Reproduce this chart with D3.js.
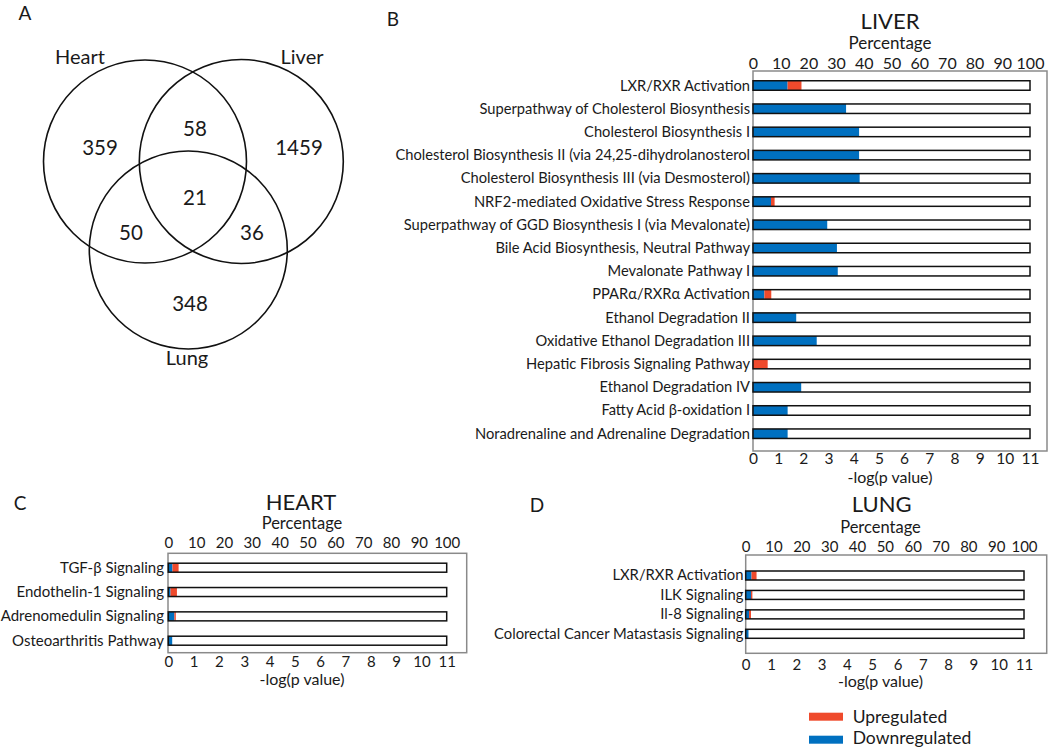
<!DOCTYPE html>
<html><head><meta charset="utf-8">
<script src="https://cdn.jsdelivr.net/npm/d3@7"></script>
<style>
body{margin:0;background:#fff}
text{font-family:Lato,"Open Sans",sans-serif;fill:#1a1a1a}
</style>
</head><body>
<svg id="chart" width="1050" height="747"></svg>
<script>
// ---------------- DATA ----------------
const vennSetNames = ["Heart", "Liver", "Lung"];
const vennRegionNames = ["Heart only", "Heart & Liver", "Liver only", "All three", "Heart & Lung", "Liver & Lung", "Lung only"];
const vennCounts = [359, 58, 1459, 21, 50, 36, 348];

const percentTicks = [0, 10, 20, 30, 40, 50, 60, 70, 80, 90, 100];
const logpTicks = [0, 1, 2, 3, 4, 5, 6, 7, 8, 9, 10, 11];

const liverPathways = [
  "LXR/RXR Activation",
  "Superpathway of Cholesterol Biosynthesis",
  "Cholesterol Biosynthesis I",
  "Cholesterol Biosynthesis II (via 24,25-dihydrolanosterol",
  "Cholesterol Biosynthesis III (via Desmosterol)",
  "NRF2-mediated Oxidative Stress Response",
  "Superpathway of GGD Biosynthesis I (via Mevalonate)",
  "Bile Acid Biosynthesis, Neutral Pathway",
  "Mevalonate Pathway I",
  "PPARα/RXRα Activation",
  "Ethanol Degradation II",
  "Oxidative Ethanol Degradation III",
  "Hepatic Fibrosis Signaling Pathway",
  "Ethanol Degradation IV",
  "Fatty Acid β-oxidation I",
  "Noradrenaline and Adrenaline Degradation"
];
const liverDown = [12.5, 33.6, 38.3, 38.3, 38.5, 6.5, 26.8, 30.3, 30.6, 4.1, 15.6, 23.0, 0, 17.4, 12.5, 12.5];
const liverUp   = [5.0, 0, 0, 0, 0, 1.3, 0, 0, 0, 2.5, 0, 0, 5.3, 0, 0, 0];
const liverTotal = [100, 100, 100, 100, 100, 100, 100, 100, 100, 100, 100, 100, 100, 100, 100, 100];

const heartPathways = ["TGF-β Signaling", "Endothelin-1 Signaling", "Adrenomedulin Signaling", "Osteoarthritis Pathway"];
const heartDown = [1.5, 0.8, 2.2, 1.4];
const heartUp   = [2.2, 2.3, 0.5, 0];
const heartTotal = [100, 100, 100, 100];

const lungPathways = ["LXR/RXR Activation", "ILK Signaling", "Il-8 Signaling", "Colorectal Cancer Matastasis Signaling"];
const lungDown = [2.1, 1.9, 1.2, 1.0];
const lungUp   = [1.8, 0.5, 0.7, 0];
const lungTotal = [100, 100, 100, 100];

const legendLabels = ["Upregulated", "Downregulated"];

// ---------------- STYLE ----------------
const RED = "#EF4A2C", BLUE = "#0070C0", FRAME = "#8a8a8a";
const svg = d3.select("#chart");

// ---------------- VENN ----------------
const venn = svg.append("g");
const circleLayout = [
  {cx: 145, cy: 161.5, r: 101.5},
  {cx: 241.3, cy: 161.5, r: 102},
  {cx: 188.3, cy: 250, r: 99}
];
venn.selectAll("circle").data(circleLayout).join("circle")
  .attr("cx", d => d.cx).attr("cy", d => d.cy).attr("r", d => d.r)
  .attr("fill", "none").attr("stroke", "#111").attr("stroke-width", 1.6);
const setLabelPos = [[80, 64], [302, 64], [187, 365]];
venn.selectAll("text.set").data(vennSetNames).join("text").attr("class", "set")
  .attr("x", (d, i) => setLabelPos[i][0]).attr("y", (d, i) => setLabelPos[i][1])
  .attr("text-anchor", "middle").style("font-size", "20px").text(d => d);
const regionPos = [[100, 155], [195, 135.7], [299, 155], [195, 205], [131, 240], [252, 240], [190, 310.7]];
venn.selectAll("text.cnt").data(vennCounts).join("text").attr("class", "cnt")
  .attr("x", (d, i) => regionPos[i][0]).attr("y", (d, i) => regionPos[i][1])
  .attr("text-anchor", "middle").style("font-size", "20.5px").text(d => d);

// ---------------- PANEL LETTERS ----------------
[["A", 25, 19.5], ["B", 393, 26], ["C", 20, 510], ["D", 537, 511.7]].forEach(([t, x, y]) => {
  svg.append("text").attr("x", x).attr("y", y).attr("text-anchor", "middle").style("font-size", "19px").text(t);
});

// ---------------- BAR PANELS ----------------
function panel(o) {
  const g = svg.append("g");
  const x = d3.scaleLinear().domain([0, 100]).range([o.bx0, o.bx1]);
  const xl = d3.scaleLinear().domain([0, 11]).range([o.bx0, o.bx1]);
  const y = d3.scalePoint().domain(o.cats).range([o.yFirst, o.yLast]);

  // frame
  g.append("rect").attr("x", o.fx0).attr("y", o.fy0)
    .attr("width", o.fx1 - o.fx0).attr("height", o.fy1 - o.fy0)
    .attr("fill", "none").attr("stroke", FRAME).attr("stroke-width", 1.5);

  // title & axis titles
  g.append("text").attr("x", o.titleX).attr("y", o.titleY).attr("text-anchor", "middle")
    .style("font-size", o.titleSize + "px").text(o.title);
  g.append("text").attr("x", o.axTitleX).attr("y", o.pctY).attr("text-anchor", "middle")
    .style("font-size", o.axTitleSize + "px").text("Percentage");
  g.append("text").attr("x", o.axTitleX).attr("y", o.logY).attr("text-anchor", "middle")
    .style("font-size", o.logTitleSize + "px").text("-log(p value)");

  // axes
  const top = g.append("g").attr("transform", `translate(0,${o.topTickY})`)
    .call(d3.axisTop(x).tickValues(percentTicks).tickSize(0).tickPadding(0).tickFormat(d3.format("d")));
  const bot = g.append("g").attr("transform", `translate(0,${o.botTickY})`)
    .call(d3.axisBottom(xl).tickValues(logpTicks).tickSize(0).tickPadding(0).tickFormat(d3.format("d")));
  top.selectAll("text").style("font-size", o.fs + "px");
  bot.selectAll("text").style("font-size", (o.fsBot || o.fs) + "px");
  [top, bot].forEach(a => {
    a.select(".domain").remove();
    a.selectAll("text").style("font-family", "Lato,'Open Sans',sans-serif").attr("fill", "#1a1a1a");
  });
  bot.selectAll("text").attr("dy", null);

  const rows = o.cats.map((c, i) => ({c, down: o.down[i], up: o.up[i], total: o.total[i]}));
  const h = o.barH;
  g.selectAll("rect.box").data(rows).join("rect").attr("class", "box")
    .attr("x", x(0)).attr("y", d => y(d.c) - h / 2)
    .attr("width", d => x(d.total) - x(0)).attr("height", h).attr("fill", "#fff");
  g.selectAll("rect.down").data(rows).join("rect").attr("class", "down")
    .attr("x", x(0)).attr("y", d => y(d.c) - h / 2)
    .attr("width", d => x(d.down) - x(0)).attr("height", h).attr("fill", BLUE);
  g.selectAll("rect.up").data(rows).join("rect").attr("class", "up")
    .attr("x", d => x(d.down)).attr("y", d => y(d.c) - h / 2)
    .attr("width", d => x(d.down + d.up) - x(d.down)).attr("height", h).attr("fill", RED);
  g.selectAll("rect.outline").data(rows).join("rect").attr("class", "outline")
    .attr("x", x(0)).attr("y", d => y(d.c) - h / 2)
    .attr("width", d => x(d.total) - x(0)).attr("height", h)
    .attr("fill", "none").attr("stroke", "#111").attr("stroke-width", 1.5);

  g.selectAll("text.lab").data(rows).join("text").attr("class", "lab")
    .attr("x", o.labelX).attr("y", d => y(d.c) + o.labOff)
    .attr("text-anchor", "end").style("font-size", o.labSize + "px").text(d => d.c);
}

panel({
  title: "LIVER", titleX: 890, titleY: 29, titleSize: 22,
  cats: liverPathways, down: liverDown, up: liverUp, total: liverTotal,
  fx0: 753, fx1: 1047, fy0: 71, fy1: 451,
  bx0: 753, bx1: 1030, yFirst: 85.5, yLast: 433.7, barH: 9.5,
  axTitleX: 890, pctY: 49.3, logY: 482.5, topTickY: 69.3, botTickY: 463.5,
  fs: 16, fsBot: 15.5, axTitleSize: 17, logTitleSize: 16, labelX: 750, labOff: 5, labSize: 14.7
});
panel({
  title: "HEART", titleX: 301, titleY: 510, titleSize: 22,
  cats: heartPathways, down: heartDown, up: heartUp, total: heartTotal,
  fx0: 168, fx1: 466.7, fy0: 553.3, fy1: 652.7,
  bx0: 168.3, bx1: 446.7, yFirst: 567.7, yLast: 640.7, barH: 9,
  axTitleX: 302, pctY: 529.3, logY: 684.5, topTickY: 548.3, botTickY: 667.3,
  fs: 15, axTitleSize: 16.5, logTitleSize: 16, labelX: 164, labOff: 4.8, labSize: 15
});
panel({
  title: "LUNG", titleX: 881.7, titleY: 511.7, titleSize: 22,
  cats: lungPathways, down: lungDown, up: lungUp, total: lungTotal,
  fx0: 745.7, fx1: 1046.7, fy0: 555, fy1: 653.3,
  bx0: 745.7, bx1: 1024, yFirst: 575.5, yLast: 633.8, barH: 9,
  axTitleX: 880.5, pctY: 533.3, logY: 687, topTickY: 551.7, botTickY: 670,
  fs: 15, axTitleSize: 16.5, logTitleSize: 16, labelX: 743.5, labOff: 4.8, labSize: 14.8
});

// ---------------- LEGEND ----------------
const legColors = [RED, BLUE];
const leg = svg.append("g");
leg.selectAll("rect").data(legendLabels).join("rect")
  .attr("x", 809).attr("y", (d, i) => 712.7 + i * 23).attr("width", 34).attr("height", 8)
  .attr("fill", (d, i) => legColors[i]);
leg.selectAll("text").data(legendLabels).join("text")
  .attr("x", 852.7).attr("y", (d, i) => 723 + i * 21).style("font-size", "17.5px").text(d => d);
</script>
</body></html>
